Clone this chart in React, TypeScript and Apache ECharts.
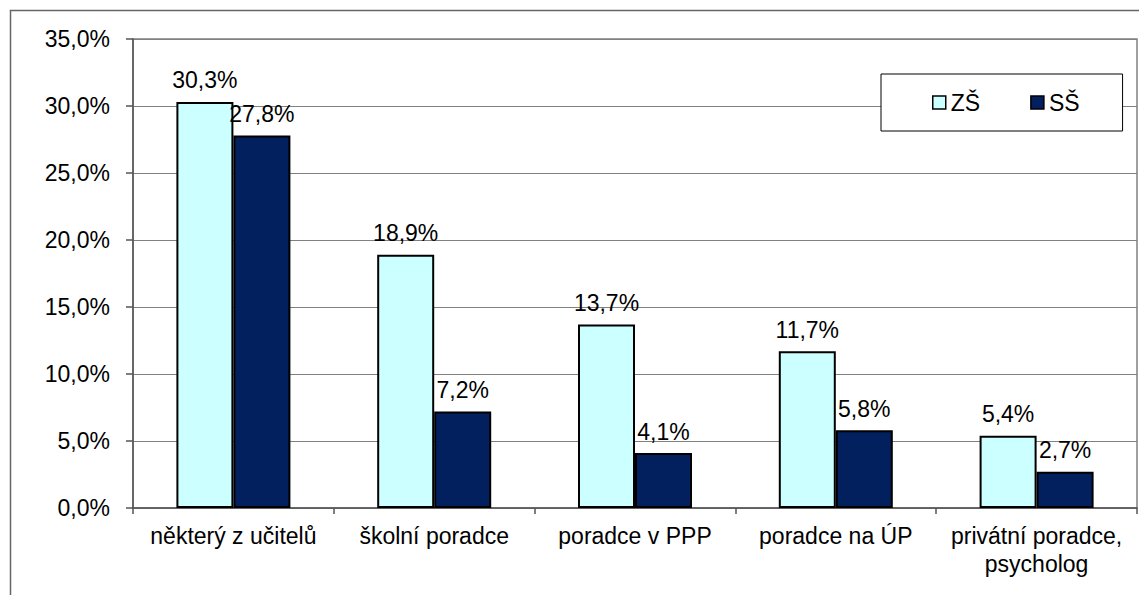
import React, { useEffect, useRef } from "react";
import * as echarts from "echarts";

const categories = [
  "některý z učitelů",
  "školní poradce",
  "poradce v PPP",
  "poradce na ÚP",
  "privátní poradce,\npsycholog",
];
const seriesNames = ["ZŠ", "SŠ"];
const zsValues = [30.3, 18.9, 13.7, 11.7, 5.4];
const ssValues = [27.8, 7.2, 4.1, 5.8, 2.7];
const yMin = 0;
const yMax = 35;
const yInterval = 5;

const FONT = "Arial, 'Liberation Sans', sans-serif";
const fmt = (v: number) => `${v.toFixed(1).replace(".", ",")}%`;

export default function App() {
  const ref = useRef<HTMLDivElement>(null);
  useEffect(() => {
    if (!ref.current) return;
    const chart = echarts.init(ref.current, undefined, { renderer: "svg" });
    const barLabel = {
      show: true,
      position: "top" as const,
      distance: 10,
      color: "#000",
      fontFamily: FONT,
      fontSize: 23,
      formatter: (p: any) => fmt(p.value),
    };
    chart.setOption({
      animation: false,
      backgroundColor: "#fff",
      textStyle: { fontFamily: FONT },
      graphic: [
        {
          type: "rect",
          shape: { x: 10.5, y: 10.5, width: 1300, height: 800 },
          style: { fill: "none", stroke: "#666", lineWidth: 1.5 },
          silent: true,
          z: -1,
        },
      ],
      grid: {
        left: 133,
        top: 39,
        right: 2,
        bottom: 87,
        show: true,
        borderColor: "#808080",
        borderWidth: 1.5,
        backgroundColor: "transparent",
      },
      legend: {
        left: 881,
        top: 74,
        orient: "horizontal",
        padding: [17, 43, 17, 51],
        itemGap: 50,
        itemWidth: 13,
        itemHeight: 13,
        borderColor: "#000",
        borderWidth: 1,
        backgroundColor: "#fff",
        icon: "rect",
        itemStyle: { borderColor: "#000", borderWidth: 1.5 },
        textStyle: { fontFamily: FONT, fontSize: 23, color: "#000" },
        data: seriesNames,
      },
      xAxis: {
        type: "category",
        data: categories,
        axisLine: { show: true, lineStyle: { color: "#555", width: 1.5 } },
        axisTick: { show: true, length: 6, lineStyle: { color: "#555", width: 1.5 } },
        axisLabel: {
          color: "#000",
          fontFamily: FONT,
          fontSize: 23,
          margin: 14,
          lineHeight: 28,
          interval: 0,
          align: "center",
        },
      },
      yAxis: {
        type: "value",
        min: yMin,
        max: yMax,
        interval: yInterval,
        axisLine: { show: true, lineStyle: { color: "#555", width: 1.5 } },
        axisTick: { show: true, length: 7, lineStyle: { color: "#555", width: 1.5 } },
        splitLine: { show: true, lineStyle: { color: "#808080", width: 1.2 } },
        axisLabel: {
          color: "#000",
          fontFamily: FONT,
          fontSize: 23,
          margin: 23,
          formatter: (v: number) => fmt(v),
        },
      },
      series: [
        {
          name: seriesNames[0],
          type: "bar",
          data: zsValues,
          barWidth: 57,
          barGap: "0%",
          itemStyle: { color: "#CCFFFF", borderColor: "#000", borderWidth: 2 },
          label: barLabel,
        },
        {
          name: seriesNames[1],
          type: "bar",
          data: ssValues,
          barWidth: 57,
          barGap: "0%",
          itemStyle: { color: "#02205E", borderColor: "#000", borderWidth: 2 },
          label: barLabel,
        },
      ],
    });
    return () => chart.dispose();
  }, []);
  return (
    <div
      ref={ref}
      style={{ position: "absolute", left: 0, top: 0, width: 1139, height: 595 }}
    />
  );
}
